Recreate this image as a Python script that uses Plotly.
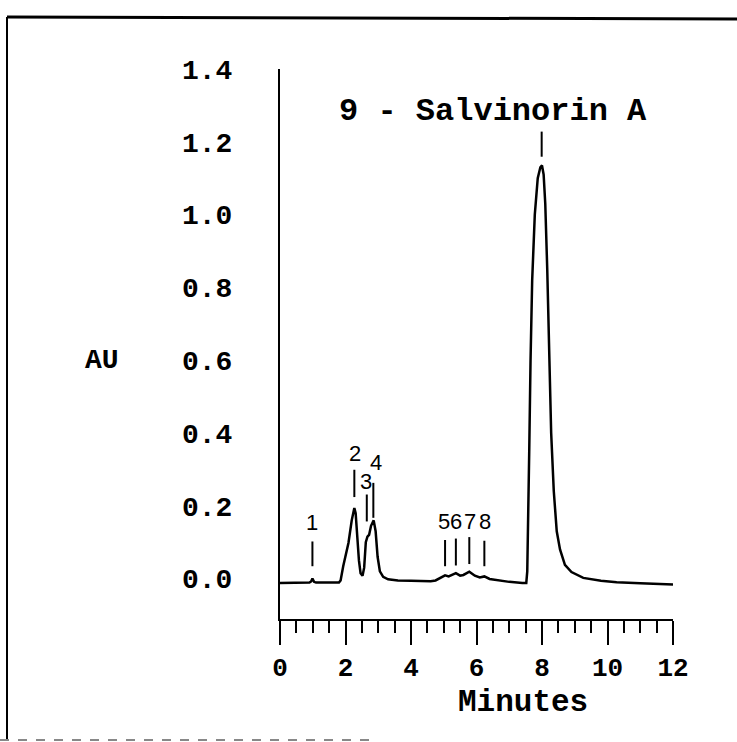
import plotly.graph_objects as go

# ---- data ----
time_min = [0.00, 0.90, 0.95, 0.99, 1.04, 1.10, 1.80, 1.85, 1.93, 2.00, 2.09, 2.19, 2.27,
            2.31, 2.36, 2.41, 2.46, 2.52, 2.57, 2.62, 2.67, 2.72, 2.78, 2.86, 2.92, 2.98,
            3.05, 3.15, 3.30, 3.60, 4.00, 4.60, 4.75, 4.85, 4.95, 5.04, 5.15, 5.25, 5.37,
            5.50, 5.60, 5.78, 5.95, 6.10, 6.24, 6.40, 6.70, 7.00, 7.40, 7.52, 7.55, 7.58,
            7.61, 7.65, 7.70, 7.78, 7.87, 7.95, 8.00, 8.05, 8.10, 8.16, 8.22, 8.28, 8.36,
            8.45, 8.55, 8.70, 8.90, 9.26, 9.80, 10.28, 11.00, 12.00]
absorbance = [-0.012, -0.011, -0.008, 0.000, -0.009, -0.011, -0.011, -0.005, 0.034, 0.060,
              0.098, 0.160, 0.194, 0.180, 0.110, 0.050, 0.015, 0.008, 0.030, 0.100, 0.115,
              0.120, 0.145, 0.160, 0.130, 0.060, 0.020, 0.005, -0.002, -0.005, -0.006,
              -0.007, -0.005, 0.000, 0.006, 0.009, 0.006, 0.010, 0.015, 0.008, 0.010, 0.019,
              0.008, 0.003, 0.006, -0.001, -0.006, -0.009, -0.012, -0.012, 0.020, 0.150,
              0.350, 0.600, 0.820, 1.000, 1.100, 1.130, 1.135, 1.110, 1.030, 0.850, 0.600,
              0.400, 0.240, 0.130, 0.080, 0.038, 0.018, 0.002, -0.006, -0.010, -0.013, -0.016]

peak_labels = ["1", "2", "3", "4", "5", "6", "7", "8"]
peak_label_x = [0.99, 2.30, 2.63, 2.93, 5.00, 5.38, 5.79, 6.25]
peak_label_y = [0.153, 0.345, 0.268, 0.318, 0.157, 0.157, 0.157, 0.157]
peak_line_x = [0.99, 2.27, 2.65, 2.85, 5.04, 5.37, 5.78, 6.24]
peak_line_lo = [0.034, 0.224, 0.157, 0.167, 0.034, 0.036, 0.040, 0.034]
peak_line_hi = [0.102, 0.299, 0.231, 0.263, 0.106, 0.110, 0.114, 0.104]

main_label = "9 - Salvinorin A"
main_label_x = 6.49
main_label_y = 1.282
main_line_x = 7.99
main_line_lo = 1.159
main_line_hi = 1.228

y_ticks = [0.0, 0.2, 0.4, 0.6, 0.8, 1.0, 1.2, 1.4]
x_ticks = [0, 2, 4, 6, 8, 10, 12]

# ---- layout geometry ----
W, H = 737, 742
L, R, T, B = 280, 64, 69, 123
PW, PH = W - L - R, H - T - B


def px_x(px):
    return (px - L) / PW


def px_y(py):
    return (H - B - py) / PH


mono = "Liberation Mono"
fig = go.Figure()
fig.add_trace(go.Scatter(x=time_min, y=absorbance, mode="lines",
                         line=dict(color="black", width=2.5), hoverinfo="skip",
                         showlegend=False))

shapes = []
annotations = []
for lab, lx, ly, vx, lo, hi in zip(peak_labels, peak_label_x, peak_label_y,
                                   peak_line_x, peak_line_lo, peak_line_hi):
    annotations.append(dict(x=lx, y=ly, xref="x", yref="y", text=lab, showarrow=False,
                            xanchor="center", yanchor="middle",
                            font=dict(family="Liberation Sans", size=22, color="black")))
    shapes.append(dict(type="line", xref="x", yref="y", x0=vx, x1=vx, y0=lo, y1=hi,
                       line=dict(color="black", width=2)))

annotations.append(dict(x=main_label_x, y=main_label_y, xref="x", yref="y",
                        text=f"<b>{main_label}</b>", showarrow=False,
                        xanchor="center", yanchor="middle",
                        font=dict(family=mono, size=32, color="black")))
shapes.append(dict(type="line", xref="x", yref="y", x0=main_line_x, x1=main_line_x,
                   y0=main_line_lo, y1=main_line_hi, line=dict(color="black", width=2)))

annotations.append(dict(x=px_x(523), y=px_y(702), xref="paper", yref="paper",
                        text="<b>Minutes</b>", showarrow=False,
                        xanchor="center", yanchor="middle",
                        font=dict(family=mono, size=31, color="black")))
annotations.append(dict(x=px_x(102), y=px_y(360), xref="paper", yref="paper",
                        text="<b>AU</b>", showarrow=False,
                        xanchor="center", yanchor="middle",
                        font=dict(family=mono, size=28, color="black")))

# frame of the scanned page
shapes.append(dict(type="line", xref="paper", yref="paper", x0=px_x(7), x1=px_x(737),
                   y0=px_y(17), y1=px_y(19), line=dict(color="black", width=3)))
shapes.append(dict(type="line", xref="paper", yref="paper", x0=px_x(7), x1=px_x(7),
                   y0=px_y(17), y1=px_y(740), line=dict(color="black", width=2)))
shapes.append(dict(type="line", xref="paper", yref="paper", x0=px_x(0), x1=px_x(371),
                   y0=px_y(740), y1=px_y(740),
                   line=dict(color="#888888", width=2, dash="dash")))

fig.update_layout(
    width=W, height=H, margin=dict(l=L, r=R, t=T, b=B, pad=0),
    paper_bgcolor="white", plot_bgcolor="white",
    shapes=shapes, annotations=annotations,
    xaxis=dict(range=[0, 12], tickvals=x_ticks, ticktext=[f"<b>{v}</b>" for v in x_ticks],
               showline=True, linecolor="black", linewidth=2,
               ticks="outside", ticklen=24, tickwidth=2, tickcolor="black",
               minor=dict(dtick=0.5, tick0=0, ticks="outside", ticklen=12, tickwidth=2,
                          tickcolor="black", showgrid=False),
               showgrid=False, zeroline=False,
               tickfont=dict(family=mono, size=26, color="black"),
               ticklabelstandoff=0),
    yaxis=dict(range=[-0.111, 1.40], tickvals=y_ticks,
               ticktext=[f"<b>{v:.1f}</b>" for v in y_ticks],
               showline=True, linecolor="black", linewidth=2, ticks="",
               showgrid=False, zeroline=False,
               tickfont=dict(family=mono, size=28, color="black"),
               ticklabelstandoff=40),
)

fig.write_html("out.html")
